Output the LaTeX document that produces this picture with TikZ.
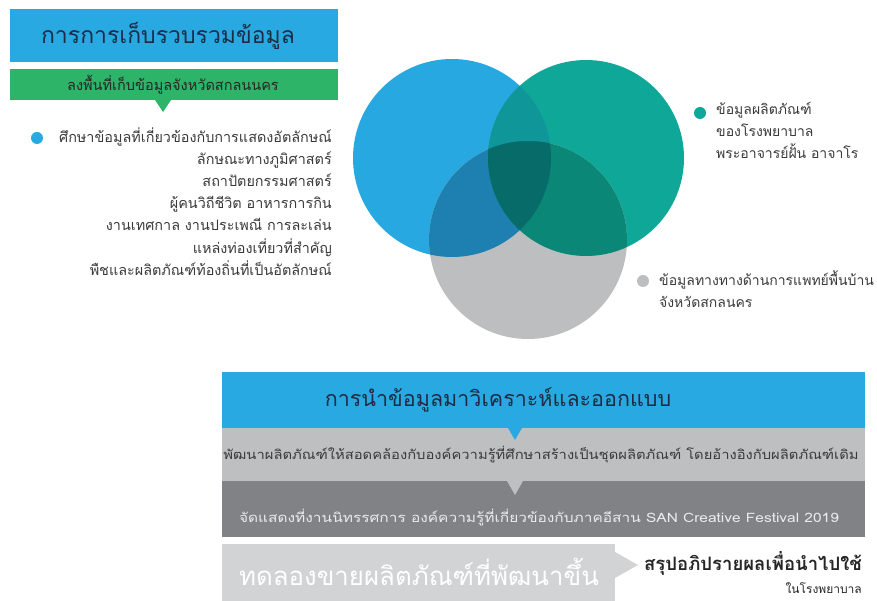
\documentclass[tikz,border=0pt]{standalone}
\usepackage{fontspec}
\newfontfamily\thai[Script=Thai]{Loma}
\definecolor{hblue}{HTML}{29A9E1}
\definecolor{hgreen}{HTML}{2DB468}
\definecolor{navy}{HTML}{1F2B45}
\definecolor{txt}{HTML}{3A3A3C}
\definecolor{cblue}{HTML}{27A8E0}
\definecolor{cteal}{HTML}{0FA798}
\definecolor{cgray}{HTML}{BDBEC0}
\definecolor{cbt}{HTML}{0E9698}
\definecolor{cbg}{HTML}{1E80B0}
\definecolor{ctg}{HTML}{0A8777}
\definecolor{call}{HTML}{076B69}
\definecolor{lgray}{HTML}{BEBFC1}
\definecolor{dgray}{HTML}{818285}
\definecolor{pgray}{HTML}{D2D3D5}
\tikzset{
  bar/.style={anchor=north west, inner sep=0pt, outer sep=0pt},
  dot/.style={circle, inner sep=0pt, minimum size=12pt},
  lbl/.style={inner sep=0pt, font=\thai},
}
\begin{document}
\begin{tikzpicture}[x=1pt,y=-1pt]
\useasboundingbox (0,0) rectangle (877,601);
% ---- top left
\node[bar, fill=hblue, minimum width=328pt, minimum height=53pt] (hdr) at (10,9) {};
\node[lbl, text=navy, font=\thai\fontsize{23}{26}\selectfont] (hdrt) at (168,36) {การการเก็บรวบรวมข้อมูล};
\node[bar, fill=hgreen, minimum width=328pt, minimum height=31pt] (grn) at (10,69) {};
\fill[hgreen] (155,100) -- (163,112) -- (171,100) -- cycle;
\node[lbl, text=black!85, font=\thai\fontsize{14.5}{17}\selectfont] (grnt) at (173,85) {ลงพื้นที่เก็บข้อมูลจังหวัดสกลนนคร};
\node[dot, fill=hblue] (d1) at (37,138) {};
\node[lbl, text=txt, align=right, anchor=north east, font=\thai\fontsize{14.4}{22.2}\selectfont] (list) at (332,127) {%
ศึกษาข้อมูลที่เกี่ยวข้องกับการแสดงอัตลักษณ์\\
ลักษณะทางภูมิศาสตร์\\
สถาปัตยกรรมศาสตร์\\
ผู้คนวิถีชีวิต อาหารการกิน\\
งานเทศกาล งานประเพณี การละเล่น\\
แหล่งท่องเที่ยวที่สำคัญ\\
พืชและผลิตภัณฑ์ท้องถิ่นที่เป็นอัตลักษณ์};
% ---- venn
\fill[cblue] (452,158) circle (99);
\fill[cteal] (586,158) circle (98);
\fill[cgray] (528,240) circle (99);
\begin{scope}\clip (452,158) circle (99); \fill[cbt] (586,158) circle (98); \end{scope}
\begin{scope}\clip (452,158) circle (99); \fill[cbg] (528,240) circle (99); \end{scope}
\begin{scope}\clip (586,158) circle (98); \fill[ctg] (528,240) circle (99); \end{scope}
\begin{scope}\clip (452,158) circle (99); \clip (586,158) circle (98); \fill[call] (528,240) circle (99); \end{scope}
\node[dot, fill=cteal] (d2) at (700,113) {};
\node[lbl, text=txt, align=left, anchor=north west, font=\thai\fontsize{14}{22}\selectfont] (tealt) at (716,102) {%
ข้อมูลผลิตภัณฑ์\\
ของโรงพยาบาล\\
พระอาจารย์ฝั้น อาจาโร};
\node[dot, fill=cgray] (d3) at (643,281) {};
\node[lbl, text=txt, align=left, anchor=north west, font=\thai\fontsize{14}{22}\selectfont] (grayt) at (659,270) {%
ข้อมูลทางทางด้านการแพทย์พื้นบ้าน\\
จังหวัดสกลนคร};
% ---- bottom
\node[bar, fill=hblue, minimum width=643pt, minimum height=56pt] (b1) at (222,372) {};
\node[lbl, text=navy, font=\thai\fontsize{21.5}{24}\selectfont] (b1t) at (498,400) {การนำข้อมูลมาวิเคราะห์และออกแบบ};
\node[bar, fill=lgray, minimum width=643pt, minimum height=53pt] (b2) at (222,428) {};
\fill[hblue] (508,428) -- (515,440) -- (522,428) -- cycle;
\node[lbl, text=txt, xscale=1.136, font=\thai\fontsize{13}{15}\selectfont] (b2t) at (541,455) {พัฒนาผลิตภัณฑ์ให้สอดคล้องกับองค์ความรู้ที่ศึกษาสร้างเป็นชุดผลิตภัณฑ์ โดยอ้างอิงกับผลิตภัณฑ์เดิม};
\node[bar, fill=dgray, minimum width=643pt, minimum height=56pt] (b3) at (222,481) {};
\fill[lgray] (507,481) -- (515,495) -- (523,481) -- cycle;
\node[lbl, text=white!92!black, xscale=1.19, font=\thai\fontsize{13}{15}\selectfont] (b3t) at (539,518) {จัดแสดงที่งานนิทรรศการ องค์ความรู้ที่เกี่ยวข้องกับภาคอีสาน SAN Creative Festival 2019};
\node[bar, fill=pgray, minimum width=393pt, minimum height=57pt] (b4) at (222,544) {};
\fill[pgray] (615,552) -- (638,565) -- (615,578) -- cycle;
\node[lbl, text=white, font=\thai\fontsize{25.8}{29}\selectfont] (b4t) at (419,572) {ทดลองขายผลิตภัณฑ์ที่พัฒนาขึ้น};
\node[lbl, text=black!85, anchor=east, font=\thai\bfseries\fontsize{18.5}{21}\selectfont] (concl) at (862,563) {สรุปอภิปรายผลเพื่อนำไปใช้};
\node[lbl, text=black!85, anchor=east, font=\thai\fontsize{12}{14}\selectfont] (concl2) at (862,588) {ในโรงพยาบาล};
\end{tikzpicture}
\end{document}
